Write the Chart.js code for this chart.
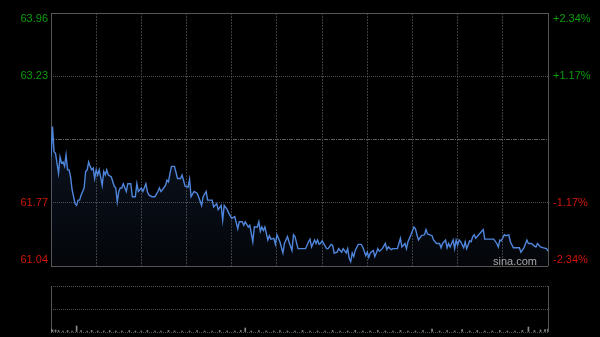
<!DOCTYPE html>
<html>
<head>
<meta charset="utf-8">
<script src="https://cdn.jsdelivr.net/npm/chart.js@4/dist/chart.umd.min.js"></script>
<style>
  html, body { margin: 0; padding: 0; background: #000; }
  #wrap { position: relative; width: 600px; height: 337px; overflow: hidden; }
  #main { position: absolute; left: 0; top: 0; }
  #vol { position: absolute; left: 0; top: 280px; }
</style>
</head>
<body>
<div id="wrap">
  <canvas id="main" width="600" height="280"></canvas>
  <canvas id="vol" width="600" height="57"></canvas>
</div>
<script>
// 분시 데이터 (분 인덱스, 가격) - 그림에서 읽은 값
const minutes = [0,1,2,3,5,6,7,8,9,10,11,12,13,14,16,17,18,19,20,22,23,24,25,26,27,28,29,30,31,32,34,35,36,37,38,40,42,43,44,45,46,47,48,50,51,53,54,56,57,58,60,61,63,64,65,67,69,71,72,73,74,76,77,78,79,80,82,84,86,87,88,89,91,92,93,95,97,98,100,101,103,104,107,108,110,111,113,114,115,117,118,120,122,124,125,127,128,129,131,132,134,135,137,138,139,140,141,142,144,145,146,148,149,150,152,154,155,157,158,160,161,162,164,165,169,171,172,173,175,176,177,178,179,180,181,183,184,186,187,188,190,191,193,194,196,197,198,199,200,201,202,204,206,207,209,210,211,212,214,215,216,217,218,220,222,223,224,226,227,228,230,231,232,233,235,236,237,239,241,242,243,244,246,248,249,250,253,254,256,258,259,260,262,263,264,265,267,268,269,270,271,272,274,275,276,278,279,280,281,282,284,285,287,288,290,292,294,296,297,298,299,301,302,304,305,307,309,311,312,314,316,317,319,321,322,323,325,327,329,330];
const prices = [62.30,62.65,62.36,62.34,62.11,62.30,62.23,62.24,62.19,62.32,62.15,62.15,62.07,61.92,61.76,61.74,61.80,61.80,61.86,61.94,62.13,62.15,62.24,62.19,62.15,62.17,62.05,62.15,62.09,62.15,61.97,62.13,62.09,62.15,62.09,62.07,61.96,61.94,61.78,61.90,61.94,61.94,61.99,61.90,61.99,61.99,61.84,61.84,61.99,61.90,61.94,61.90,61.99,61.90,61.86,61.84,61.84,61.90,61.94,61.90,61.92,61.97,62.03,62.01,62.11,62.19,62.19,62.05,62.05,62.09,62.03,61.96,61.95,62.04,61.84,61.90,61.88,61.84,61.74,61.84,61.90,61.80,61.80,61.72,61.76,61.69,61.74,61.57,61.74,61.69,61.65,61.59,61.61,61.47,61.55,61.55,61.51,61.55,61.49,61.51,61.32,61.49,61.49,61.55,61.44,61.49,61.45,61.49,61.34,61.39,61.35,61.36,61.29,61.40,61.32,61.19,61.30,61.38,61.32,61.22,61.40,61.38,61.24,61.24,61.24,61.32,61.35,61.26,61.34,61.30,61.34,61.29,61.30,61.33,61.30,61.24,61.24,61.29,61.28,61.19,61.20,61.24,61.20,61.24,61.19,61.24,61.13,61.09,61.19,61.15,61.22,61.29,61.29,61.26,61.16,61.20,61.14,61.19,61.22,61.15,61.19,61.24,61.21,61.24,61.30,61.23,61.26,61.23,61.24,61.24,61.24,61.30,61.36,61.26,61.30,61.24,61.32,61.40,61.49,61.47,61.40,61.34,61.39,61.40,61.46,61.41,61.39,61.34,61.30,61.30,61.25,61.30,61.34,61.25,61.30,61.26,61.34,61.24,61.34,61.28,61.34,61.32,61.25,61.32,61.24,61.33,61.32,61.38,61.40,61.36,61.40,61.42,61.46,61.35,61.35,61.35,61.35,61.30,61.26,61.34,61.33,61.40,61.39,61.40,61.32,61.25,61.25,61.25,61.20,61.25,61.34,61.30,61.30,61.27,61.26,61.30,61.26,61.25,61.24,61.21];

// 거래량 (분 인덱스, 값)
const volMinutes = [0,1,3,5,8,11,14,17,20,24,27,31,35,39,43,47,52,56,60,64,69,73,78,82,87,92,97,102,107,112,117,122,126,129,133,138,143,148,152,157,162,167,172,177,182,187,192,197,202,207,212,217,222,227,232,237,242,247,253,258,263,268,273,278,283,288,293,298,303,308,313,317,321,325,328,330];
const volumes = [3,2,2,1.5,1,1.5,1,6,1.5,1,1.5,1,1,1.5,1,1,1.5,1,1,1.5,1,1,1.5,1,1,1,1.5,1,1,1.5,1,1,1.5,4,1,1.5,1,1,1.5,1,1,1.5,1,1,1,1.5,1,1,1.5,1,1,1.5,1,1,1.5,1,1,1.5,3,1,1.5,1,2.5,1,1.5,1,1,1.5,1,1,1.5,5,1.5,2,2.5,3];

// 축 눈금
const priceMin = 61.04;
const priceMax = 63.96;
const tickValues = [61.04, 61.77, 62.50, 63.23, 63.96];
const priceLabels = ['61.04', '61.77', '', '63.23', '63.96'];
const pctLabels = ['-2.34%', '-1.17%', '', '+1.17%', '+2.34%'];
const labelColors = ['#d0160a', '#d0160a', '#888888', '#0c9c0c', '#0c9c0c'];
const totalMinutes = 330;
const gridStep = 30;

const BORDER = '#555555';
const LABEL_SHIFT = 0.07; // 위/아래 끝 라벨을 안쪽으로 조금 이동

// y축 눈금 목록: 테두리선 + 라벨 위치
function buildYTicks(scale) {
  const ticks = [];
  tickValues.forEach((v, k) => {
    if (k === 0) {
      ticks.push({ value: v, k: -1, kind: 'border' });
      ticks.push({ value: v + LABEL_SHIFT, k: k, kind: 'label' });
    } else if (k === tickValues.length - 1) {
      ticks.push({ value: v - LABEL_SHIFT, k: k, kind: 'label' });
      ticks.push({ value: v, k: -1, kind: 'border' });
    } else {
      ticks.push({ value: v, k: k, kind: k === 2 ? 'mid' : 'line' });
    }
  });
  scale.ticks = ticks;
}

function yGridColor(c) {
  const t = c.tick || {};
  if (t.kind === 'label') return 'rgba(0,0,0,0)';
  if (t.kind === 'border') return BORDER;
  if (t.kind === 'mid') return '#5a5a5a';
  return '#4e4e4e';
}

function yGridDash(c) {
  const t = c.tick || {};
  if (t.kind === 'mid') return [4, 1, 1, 1];
  if (t.kind === 'line') return [1, 1];
  return [];
}

const labelFont = { family: 'Liberation Sans, Arial, sans-serif', size: 11 };

const watermark = {
  id: 'watermark',
  afterDraw(chart) {
    const { ctx, chartArea } = chart;
    ctx.save();
    ctx.font = '11px "Liberation Sans", Arial, sans-serif';
    ctx.fillStyle = '#a8a8a8';
    ctx.textAlign = 'right';
    ctx.textBaseline = 'middle';
    ctx.fillText('sina.com', chartArea.right - 11, chartArea.bottom - 4);
    ctx.restore();
  }
};

new Chart(document.getElementById('main').getContext('2d'), {
  type: 'line',
  data: {
    datasets: [{
      data: minutes.map((m, i) => ({ x: m, y: prices[i] })),
      borderColor: '#4f86dc',
      borderWidth: 1.4,
      pointRadius: 0,
      tension: 0,
      fill: 'start',
      backgroundColor: function(c) {
        const area = c.chart.chartArea;
        if (!area) return 'rgba(0,0,0,0)';
        const g = c.chart.ctx.createLinearGradient(0, area.top, 0, area.bottom);
        g.addColorStop(0, 'rgba(60,95,160,0.32)');
        g.addColorStop(1, 'rgba(60,95,160,0.06)');
        return g;
      }
    }]
  },
  options: {
    responsive: false,
    animation: false,
    layout: { padding: { top: 13, left: 0, right: 0, bottom: 0 } },
    plugins: { legend: { display: false }, tooltip: { enabled: false } },
    scales: {
      x: {
        type: 'linear',
        min: 0,
        max: totalMinutes,
        ticks: { display: false, stepSize: gridStep },
        grid: {
          drawTicks: false,
          color: c => (c.tick && (c.tick.value === 0 || c.tick.value === totalMinutes)) ? BORDER : '#3c3c3c'
        },
        border: {
          display: false,
          dash: c => (c.tick && (c.tick.value === 0 || c.tick.value === totalMinutes)) ? [] : [2, 1]
        },
        afterFit: s => { s.height = 14; }
      },
      y: {
        position: 'left',
        min: priceMin,
        max: priceMax,
        afterBuildTicks: buildYTicks,
        afterFit: s => { s.width = 51; },
        ticks: {
          font: labelFont,
          padding: 3,
          color: c => c.tick && c.tick.k >= 0 ? labelColors[c.tick.k] : '#888',
          callback: function(v, i, ticks) { return ticks[i].k >= 0 ? priceLabels[ticks[i].k] : ''; }
        },
        grid: { drawTicks: false, color: yGridColor },
        border: { display: false, dash: yGridDash }
      },
      y2: {
        position: 'right',
        min: priceMin,
        max: priceMax,
        afterBuildTicks: buildYTicks,
        afterFit: s => { s.width = 52; },
        ticks: {
          font: labelFont,
          padding: 5,
          color: c => c.tick && c.tick.k >= 0 ? labelColors[c.tick.k] : '#888',
          callback: function(v, i, ticks) { return ticks[i].k >= 0 ? pctLabels[ticks[i].k] : ''; }
        },
        grid: { display: false, drawTicks: false },
        border: { display: false }
      }
    }
  },
  plugins: [watermark]
});

// 거래량 차트
new Chart(document.getElementById('vol').getContext('2d'), {
  type: 'bar',
  data: {
    datasets: [{
      data: volMinutes.map((m, i) => ({ x: m, y: volumes[i] })),
      backgroundColor: '#8a8a8a',
      barThickness: 1
    }]
  },
  options: {
    responsive: false,
    animation: false,
    layout: { padding: { top: 6, left: 0, right: 0, bottom: 0 } },
    plugins: { legend: { display: false }, tooltip: { enabled: false } },
    scales: {
      x: {
        type: 'linear',
        min: 0,
        max: totalMinutes,
        offset: false,
        afterBuildTicks: s => { s.ticks = [{ value: 0 }, { value: totalMinutes }]; },
        ticks: { display: false },
        grid: { drawTicks: false, color: BORDER, offset: false },
        border: { display: false },
        afterFit: s => { s.height = 5; }
      },
      y: {
        position: 'left',
        min: 0,
        max: 46,
        afterBuildTicks: s => { s.ticks = [{ value: 0 }, { value: 23 }, { value: 46 }]; },
        afterFit: s => { s.width = 51; },
        ticks: { display: false },
        grid: { drawTicks: false, color: '#4e4e4e' },
        border: { display: false, dash: [1, 1] }
      },
      yr: {
        position: 'right',
        min: 0,
        max: 46,
        afterFit: s => { s.width = 52; },
        ticks: { display: false },
        grid: { display: false },
        border: { display: false }
      }
    }
  }
});
</script>
</body>
</html>
